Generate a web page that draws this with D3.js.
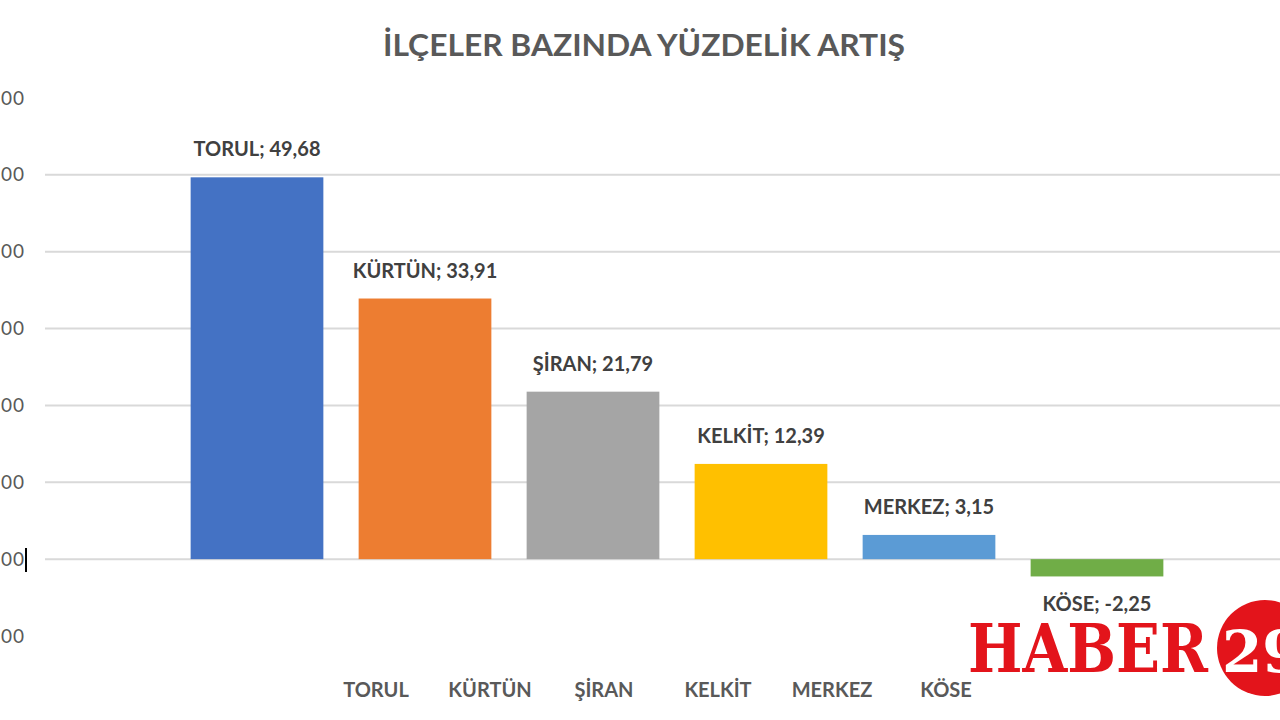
<!DOCTYPE html>
<html>
<head>
<meta charset="utf-8">
<script src="https://cdn.jsdelivr.net/npm/d3@7"></script>
<style>
  body { margin: 0; background: #fff; }
  svg { display: block; }
</style>
</head>
<body>
<div id="chart"></div>
<script>
//chart data
var districts = ["TORUL", "KÜRTÜN", "ŞİRAN", "KELKİT", "MERKEZ", "KÖSE"];
var increase = [49.68, 33.91, 21.79, 12.39, 3.15, -2.25];
var barColors = ["#4472c4", "#ed7d31", "#a5a5a5", "#ffc000", "#5b9bd5", "#70ad47"];
var yTicks = [-10, 0, 10, 20, 30, 40, 50, 60];
var gridTicks = [0, 10, 20, 30, 40, 50];
var title = "İLÇELER BAZINDA YÜZDELİK ARTIŞ";

var width = 1280, height = 720;
var fmt = function(v) { return d3.format(".2f")(v).replace(".", ",").replace("−", "-"); };

var svg = d3.select("#chart").append("svg")
    .attr("width", width)
    .attr("height", height)
    .attr("viewBox", "0 0 " + width + " " + height);

//scales
var y = d3.scaleLinear().domain([-10, 60]).range([636, 98]);
var x = d3.scaleBand().domain(districts).range([173, 1181]).paddingInner(0.21).paddingOuter(0.105);
//category labels sit on their own (narrower) band in the picture
var xLab = d3.scaleBand().domain(districts).range([319, 1003]);

//title
svg.append("text")
    .attr("x", 383)
    .attr("y", 56)
    .attr("textLength", 522)
    .attr("lengthAdjust", "spacingAndGlyphs")
    .style("font-family", "Lato, 'Open Sans', sans-serif")
    .style("font-weight", "bold")
    .style("font-size", "30px")
    .style("fill", "#595959")
    .text(title);

//gridlines
svg.append("g")
    .attr("class", "grid")
    .selectAll("line")
    .data(gridTicks)
    .join("line")
    .attr("x1", 45)
    .attr("x2", width)
    .attr("y1", function(d) { return y(d); })
    .attr("y2", function(d) { return y(d); })
    .attr("stroke", "#d9d9d9")
    .attr("stroke-width", 2);

//y-axis labels (cut off on the left edge)
var yAxis = svg.append("g")
    .attr("class", "y-axis")
    .attr("transform", "translate(25,0)")
    .call(d3.axisLeft(y).tickValues(yTicks).tickFormat(fmt).tickSize(0).tickPadding(0));
yAxis.select(".domain").remove();
yAxis.selectAll("text")
    .style("font-family", "Lato, 'Open Sans', sans-serif")
    .style("font-size", "19px")
    .style("letter-spacing", "1px")
    .style("fill", "#595959");

//bars
svg.append("g")
    .selectAll("rect")
    .data(districts)
    .join("rect")
    .attr("x", function(d) { return x(d); })
    .attr("width", x.bandwidth())
    .attr("y", function(d, i) { return y(Math.max(0, increase[i])); })
    .attr("height", function(d, i) { return Math.abs(y(increase[i]) - y(0)); })
    .attr("fill", function(d, i) { return barColors[i]; });

//data labels
svg.append("g")
    .selectAll("text")
    .data(districts)
    .join("text")
    .attr("x", function(d) { return x(d) + x.bandwidth() / 2; })
    .attr("y", function(d, i) {
      return increase[i] >= 0 ? y(increase[i]) - 21 : y(increase[i]) + 35;
    })
    .attr("text-anchor", "middle")
    .style("font-family", "Lato, 'Open Sans', sans-serif")
    .style("font-weight", "bold")
    .style("font-size", "20px")
    .style("fill", "#404040")
    .text(function(d, i) { return d + "; " + fmt(increase[i]); });

//category labels
svg.append("g")
    .selectAll("text")
    .data(districts)
    .join("text")
    .attr("x", function(d) { return xLab(d) + xLab.bandwidth() / 2; })
    .attr("y", 697)
    .attr("text-anchor", "middle")
    .style("font-family", "Lato, 'Open Sans', sans-serif")
    .style("font-weight", "bold")
    .style("font-size", "20px")
    .style("fill", "#595959")
    .text(function(d) { return d; });

//text cursor mark
svg.append("line")
    .attr("x1", 26).attr("x2", 26)
    .attr("y1", 548).attr("y2", 572)
    .attr("stroke", "#000").attr("stroke-width", 2);

//watermark
var wm = svg.append("g").attr("class", "watermark");
wm.append("circle")
    .attr("cx", 1265).attr("cy", 648).attr("r", 48)
    .attr("fill", "#e3141b");
wm.append("text")
    .attr("x", 1222).attr("y", 672)
    .style("font-family", "'DejaVu Serif', serif")
    .style("font-weight", "bold")
    .style("font-size", "58px")
    .style("fill", "#fff")
    .text("29");
wm.append("text")
    .attr("x", 968).attr("y", 672)
    .attr("textLength", 240)
    .attr("lengthAdjust", "spacingAndGlyphs")
    .style("font-family", "'DejaVu Serif', serif")
    .style("font-weight", "bold")
    .style("font-size", "68px")
    .style("fill", "#e3141b")
    .text("HABER");
</script>
</body>
</html>
